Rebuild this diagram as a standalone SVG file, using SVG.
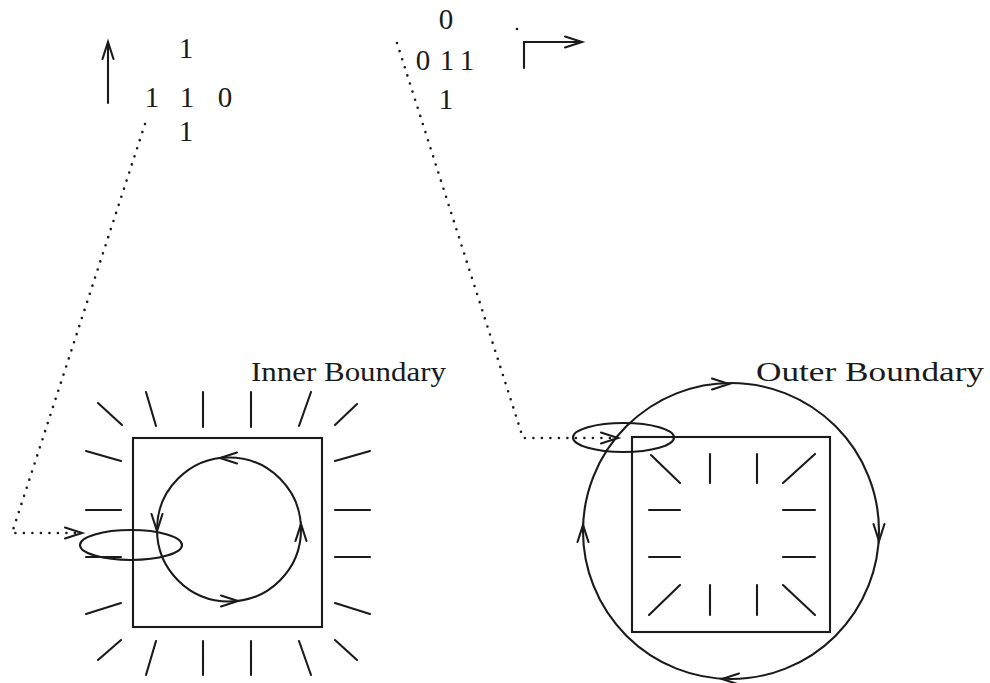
<svg xmlns="http://www.w3.org/2000/svg" width="990" height="683" viewBox="0 0 990 683">
<style>
.ln{stroke:#1a1a1a;stroke-width:2.1;fill:none;stroke-linecap:round}
.dot{stroke:#1a1a1a;stroke-width:2.6;fill:none;stroke-linecap:round;stroke-dasharray:0 8.5}
.ah{stroke:#1a1a1a;stroke-width:2.1;fill:none;stroke-linecap:round;stroke-linejoin:miter}
.t{font-family:"Liberation Serif","DejaVu Serif",serif;font-size:28px;fill:#1a1a1a}
.d{font-family:"Liberation Serif","DejaVu Serif",serif;font-size:29px;fill:#1a1a1a}
</style>
<defs>
<path id="ah" class="ah" d="M-17,-5.5 L0,0 L-17,5.5"/>
</defs>
<rect width="990" height="683" fill="#ffffff"/>

<g id="code-left">
<line class="ln" x1="108" y1="103" x2="108" y2="43"/>
<use href="#ah" transform="translate(108,42) rotate(-90)"/>
<text class="d" x="186" y="58" text-anchor="middle">1</text>
<text class="d" x="152" y="107" text-anchor="middle">1</text>
<text class="d" x="187" y="107" text-anchor="middle">1</text>
<text class="d" x="225" y="107" text-anchor="middle">0</text>
<text class="d" x="186" y="141" text-anchor="middle">1</text>
</g>

<g id="code-right">
<text class="d" x="446" y="29" text-anchor="middle">0</text>
<text class="d" x="423" y="70" text-anchor="middle">0</text>
<text class="d" x="447" y="70" text-anchor="middle">1</text>
<text class="d" x="467" y="70" text-anchor="middle">1</text>
<text class="d" x="446" y="109" text-anchor="middle">1</text>
<circle cx="517" cy="29" r="1.3" fill="#1a1a1a"/>
<polyline class="ln" points="524,68 524,42 581,42"/>
<use href="#ah" transform="translate(582,42)"/>
</g>

<g id="inner-boundary">
<text class="t" x="251" y="381" textLength="195" lengthAdjust="spacingAndGlyphs">Inner Boundary</text>
<rect class="ln" x="133" y="438" width="189" height="189"/>
<circle class="ln" cx="229" cy="529.5" r="72"/>
<use href="#ah" transform="translate(220,458) rotate(180)"/>
<use href="#ah" transform="translate(157,531) rotate(90)"/>
<use href="#ah" transform="translate(238,601)"/>
<use href="#ah" transform="translate(301,524) rotate(-90)"/>
<ellipse class="ln" cx="131" cy="545" rx="51" ry="15"/>
<path class="ln" d="M98,403L122,425M146,392L156,426M203,392L203,427M251,392L251,427M311,392L299,426M357,404L335,425
M86,451L121,461M86,510L121,510M86,557L121,557M86,614L121,603
M335,461L370,451M335,510L370,510M335,557L370,557M335,603L370,614
M98,660L121,640M146,675L156,641M203,641L203,675M251,641L251,675M299,641L311,675M335,640L357,660"/>
</g>

<g id="outer-boundary">
<text class="t" x="756" y="381" textLength="228" lengthAdjust="spacingAndGlyphs">Outer Boundary</text>
<rect class="ln" x="632" y="437" width="198" height="195"/>
<circle class="ln" cx="731" cy="531" r="148"/>
<use href="#ah" transform="translate(729,384)"/>
<use href="#ah" transform="translate(879,541) rotate(90)"/>
<use href="#ah" transform="translate(722,679) rotate(180)"/>
<use href="#ah" transform="translate(583,525) rotate(-90)"/>
<ellipse class="ln" cx="623.5" cy="437.5" rx="50.5" ry="14.5"/>
<path class="ln" d="M651,455L680,483M710,454L710,483M757,454L757,483M815,454L783,483
M649,510L680,510M783,510L815,510M649,557L680,557M783,557L815,557
M649,615L680,585M710,585L710,615M757,585L757,615M783,585L815,615"/>
</g>

<g id="connectors">
<polyline class="dot" points="145,124 12,533 78,533"/>
<use href="#ah" transform="translate(82,533)"/>
<polyline class="dot" points="397,43 523,438 612,438"/>
<use href="#ah" transform="translate(618,438)"/>
</g>
</svg>
